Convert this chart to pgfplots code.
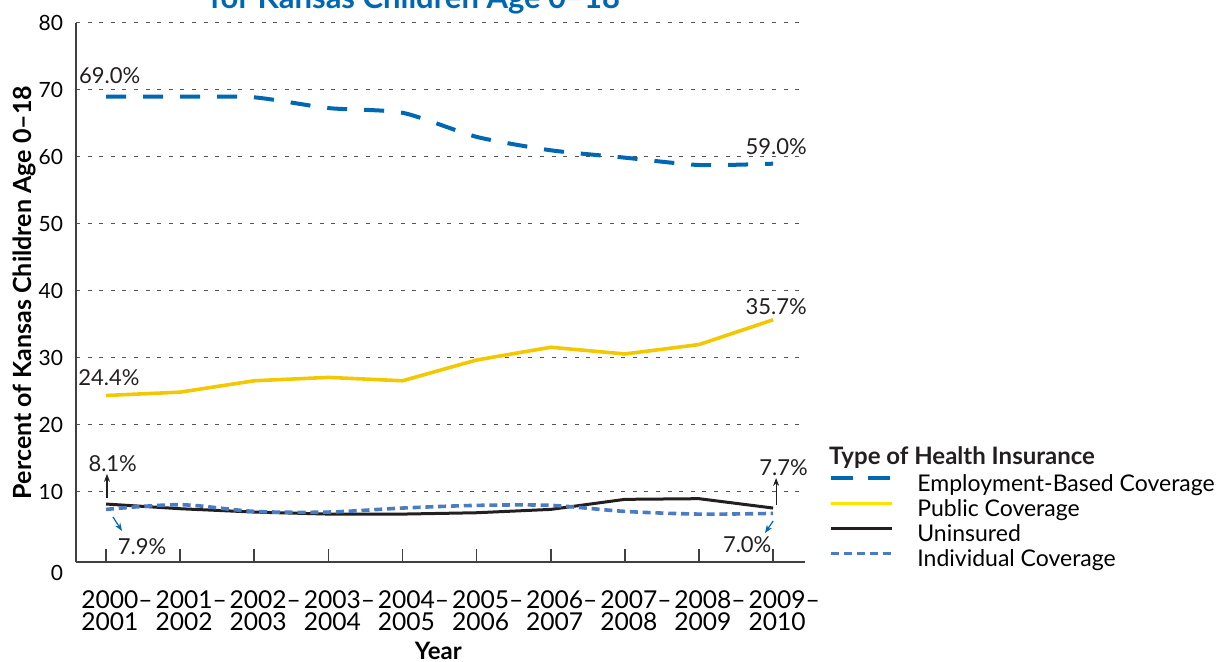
\documentclass[border=0pt]{standalone}
\usepackage{fontspec}
\setmainfont{Lato}
\usepackage{pgfplots}
\pgfplotsset{compat=1.18}
\usetikzlibrary{arrows.meta}
\definecolor{empblue}{RGB}{0,103,178}
\definecolor{pubyellow}{RGB}{242,200,0}
\definecolor{legyellow}{RGB}{250,228,0}
\definecolor{indblue}{RGB}{74,124,196}
\definecolor{unblack}{RGB}{35,31,32}
\definecolor{gridgray}{RGB}{85,85,85}
\definecolor{titleblue}{RGB}{0,103,178}
\begin{document}
\begin{tikzpicture}
\begin{axis}[
  scale only axis, width=364.5pt, height=269.5pt,
  xmin=-0.405, xmax=9.43, ymin=-0.45, ymax=80,
  axis x line=bottom, axis y line=left,
  axis line style={-, draw=black!75, line width=0.8pt},
  xtick={0,...,9},
  xticklabels={{2000–\\2001},{2001–\\2002},{2002–\\2003},{2003–\\2004},{2004–\\2005},{2005–\\2006},{2006–\\2007},{2007–\\2008},{2008–\\2009},{2009–\\2010}},
  xticklabel style={font=\fontsize{12.3}{11}\selectfont, align=left, anchor=north west, inner sep=0pt, xshift=-12.5pt, yshift=-14pt},
  major tick length=6.5pt, tick align=inside,
  xtick style={draw=black!75, line width=0.8pt},
  ytick={10,20,...,80},
  ytick style={draw=none},
  ymajorgrids,
  grid style={dash pattern=on 2pt off 3.8pt, draw=gridgray, line width=0.5pt},
  yticklabel style={font=\fontsize{10.5}{12}\selectfont, xshift=-3pt},
  extra y ticks={0},
  extra y tick style={grid=none, yticklabel style={yshift=-7pt}},
  /pgf/number format/assume math mode=true,
  ylabel={\bfseries Percent of Kansas Children Age 0–18},
  ylabel style={font=\fontsize{12.5}{14}\selectfont\bfseries, at={(axis description cs:-0.07,0.5)}, anchor=center},
  xlabel={\textbf{Year}},
  xlabel style={font=\fontsize{12}{14}\selectfont, at={(axis description cs:0.497,-0.165)}, anchor=center},
  clip=false,
  legend image code/.code={\draw[#1] (0pt,3.5pt) -- (30.5pt,3.5pt);},
  legend cell align=left,
  legend style={at={(axis description cs:1.0329,0.1633)}, anchor=north west, draw=none, fill=none, inner sep=0pt,
    font=\fontsize{11.5}{13}\selectfont, nodes={inner sep=0pt, text height=8.5pt, text depth=2.5pt},
    row sep=1.5pt, /tikz/every odd column/.append style={column sep=11.5pt}},
]
\addplot[empblue, line width=2pt, dash pattern=on 10pt off 8.5pt, smooth, tension=0.4, forget plot] coordinates {
 (0,69.0) (1,69.0) (2,68.9) (3,67.3) (4,66.6) (5,63.0) (6,61.0) (7,59.9) (8,58.8) (9,59.0)};
\addplot[pubyellow, line width=1.8pt, forget plot] coordinates {
 (0,24.4) (1,24.9) (2,26.6) (3,27.1) (4,26.6) (5,29.7) (6,31.6) (7,30.6) (8,32.0) (9,35.7)};
\addplot[unblack, line width=1.5pt, forget plot] coordinates {
 (0,8.2) (1,7.5) (2,7.0) (3,6.7) (4,6.7) (5,6.9) (6,7.4) (7,8.9) (8,9.0) (9,7.6)};
\addplot[indblue, line width=1.8pt, dash pattern=on 4pt off 2.4pt, smooth, tension=0.5, forget plot] coordinates {
 (0,7.4) (1,8.1) (2,7.1) (3,7.0) (4,7.6) (5,8.0) (6,8.0) (7,7.1) (8,6.7) (9,6.8)};
\addlegendimage{empblue, line width=2pt, dash pattern=on 11pt off 7.5pt}
\addlegendentry{Employment-Based Coverage}
\addlegendimage{legyellow, line width=1.8pt}
\addlegendentry{Public Coverage}
\addlegendimage{unblack, line width=1.8pt}
\addlegendentry{Uninsured}
\addlegendimage{indblue, line width=1.8pt, dash pattern=on 4pt off 2.4pt}
\addlegendentry{Individual Coverage}
\begin{scope}[every node/.style={font=\fontsize{11}{13}\selectfont, text=unblack}]
\node at (axis cs:0.05,72.2) {69.0\%};
\node at (axis cs:9.04,61.6) {59.0\%};
\node at (axis cs:0.04,27.0) {24.4\%};
\node at (axis cs:9.04,37.6) {35.7\%};
\node at (axis cs:0.09,14.3) {8.1\%};
\node at (axis cs:0.486,1.8) {7.9\%};
\node at (axis cs:9.14,13.7) {7.7\%};
\node at (axis cs:8.65,2.1) {7.0\%};
\end{scope}
\draw[unblack, line width=0.6pt, -{Stealth[length=4pt,width=3pt]}] (axis cs:0.013,9.1) -- (axis cs:0.013,12.7);
\draw[unblack, line width=0.6pt, -{Stealth[length=4pt,width=3pt]}] (axis cs:9.04,8.1) -- (axis cs:9.04,12.1);
\draw[empblue, line width=0.6pt, -{Stealth[length=4pt,width=3pt]}] (axis cs:0.094,6.27) -- (axis cs:0.216,4.18);
\draw[empblue, line width=0.6pt, -{Stealth[length=4pt,width=3pt]}] (axis cs:9.0,5.67) -- (axis cs:8.89,3.88);
\end{axis}
\node[anchor=base west, font=\fontsize{12}{14}\selectfont\bfseries, text=unblack] at (373pt,48.5pt) {Type of Health Insurance};
\node[anchor=base, font=\fontsize{15.5}{17}\selectfont\bfseries, text=titleblue] at (169.5pt,276.5pt) {for Kansas Children Age 0–18};
\pgfresetboundingbox
\useasboundingbox (-38pt,-50pt) rectangle (573pt,281pt);
\end{tikzpicture}
\end{document}
